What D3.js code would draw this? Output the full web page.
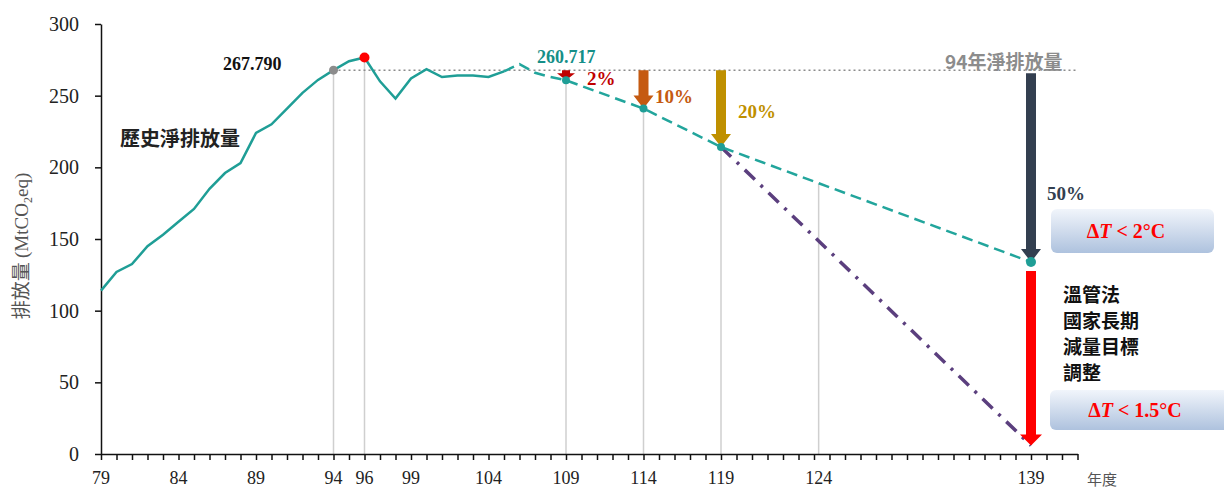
<!DOCTYPE html>
<html>
<head>
<meta charset="utf-8">
<script src="https://d3js.org/d3.v7.min.js"></script>
<style>
  body { margin: 0; background: #fff; }
  svg { display: block; }
</style>
</head>
<body>
<svg width="1224" height="495"></svg>
<script>
// 歷史淨排放量 (民國年, MtCO2eq)
var histYears  = [79, 80, 81, 82, 83, 84, 85, 86, 87, 88, 89, 90, 91, 92, 93, 94, 95, 96, 97, 98, 99, 100, 101, 102, 103, 104, 105];
var histValues = [114, 127, 132.5, 145, 153, 162, 171, 185, 196, 203, 224, 230, 241, 252, 261, 267.79, 274, 276.6, 260, 248, 262, 268.5, 263, 264, 264, 263, 267];

// 減量路徑 (虛線)
var pathYears  = [105, 106, 107, 108, 109, 114, 119, 139];
var pathValues = [267, 272, 266, 263, 260.717, 241.0, 214.2, 133.9];

// 1.5°C 路徑 (點虛線)
var steepYears  = [119, 139];
var steepValues = [214.2, 6];

var baseYear = 94, baseValue = 267.79;
var peakYear = 96, peakValue = 276.6;

// 各階段減量
var cutYears  = [109, 114, 119, 139];
var cutValues = [260.717, 241.0, 214.2, 133.9];
var cutLabels = ['2%', '10%', '20%', '50%'];
var cutColors = ['#c00000', '#c55a11', '#bf9000', '#333f50'];

// 垂直參考線
var guideYears = [94, 96, 109, 114, 119, 125.3];

// x 軸標籤 (124 的標籤在原圖中畫在參考線位置)
var xTickAt     = [79, 84, 89, 94, 96, 99, 104, 109, 114, 119, 125.3, 139];
var xTickLabels = ['79', '84', '89', '94', '96', '99', '104', '109', '114', '119', '124', '139'];
var yTicks = [0, 50, 100, 150, 200, 250, 300];

var svg = d3.select("svg");
var serif = "'Liberation Serif', 'Times New Roman', serif";
var cjk = "'Noto Sans CJK TC', 'Noto Sans', sans-serif";
var teal = "#1f9e96";

var x = d3.scaleLinear().domain([79, 142]).range([101, 1077.5]);
var y = d3.scaleLinear().domain([0, 300]).range([454, 24]);
var onPath = d3.scaleLinear().domain(pathYears).range(pathValues);

// 參考線
svg.selectAll(".guide")
    .data(guideYears)
    .enter().append("line")
    .attr("class", "guide")
    .attr("x1", function(d) { return x(d); })
    .attr("x2", function(d) { return x(d); })
    .attr("y1", y(0))
    .attr("y2", function(d) {
        if (d === baseYear) return y(baseValue);
        if (d === peakYear) return y(peakValue);
        return y(onPath(d));
    })
    .attr("stroke", "#cfcfcf")
    .attr("stroke-width", 1.5);

// 94年水平虛線
svg.append("line")
    .attr("x1", x(baseYear)).attr("x2", x(142))
    .attr("y1", y(baseValue)).attr("y2", y(baseValue))
    .attr("stroke", "#8c8c8c")
    .attr("stroke-width", 1.5)
    .attr("stroke-dasharray", "2,3");

// 軸
var xAxis = d3.axisBottom(x)
    .tickValues(d3.range(79, 143))
    .tickSize(6)
    .tickSizeOuter(0)
    .tickFormat("");
svg.append("g")
    .attr("transform", "translate(0," + y(0) + ")")
    .call(xAxis)
    .call(function(g) {
        g.selectAll("line, path").attr("stroke", "#111").attr("stroke-width", 1.5);
    });

svg.selectAll(".xlab")
    .data(xTickAt)
    .enter().append("text")
    .attr("class", "xlab")
    .attr("x", function(d) { return x(d); })
    .attr("y", 484)
    .attr("text-anchor", "middle")
    .attr("font-family", serif)
    .attr("font-size", 18)
    .attr("fill", "#222")
    .text(function(d, i) { return xTickLabels[i]; });

var yAxis = d3.axisLeft(y)
    .tickValues(yTicks)
    .tickSize(6)
    .tickSizeOuter(0)
    .tickPadding(16);
svg.append("g")
    .attr("transform", "translate(" + x(79) + ",0)")
    .call(yAxis)
    .call(function(g) {
        g.selectAll("line, path").attr("stroke", "#111").attr("stroke-width", 1.5);
        g.selectAll("text")
            .attr("font-family", serif)
            .attr("font-size", 20)
            .attr("fill", "#222");
    });

svg.append("text")
    .attr("x", 1087).attr("y", 485)
    .attr("font-family", cjk)
    .attr("font-size", 15)
    .attr("fill", "#555")
    .text("年度");

var ylab = svg.append("text")
    .attr("transform", "translate(28,246) rotate(-90)")
    .attr("text-anchor", "middle")
    .attr("fill", "#555")
    .attr("font-size", 19);
ylab.append("tspan").attr("font-family", cjk).text("排放量 ");
ylab.append("tspan").attr("font-family", serif).text("(MtCO");
ylab.append("tspan").attr("font-family", serif).attr("font-size", 12).attr("dy", 4).text("2");
ylab.append("tspan").attr("font-family", serif).attr("dy", -4).text("eq)");

// 線
var line = d3.line()
    .x(function(d) { return x(d[0]); })
    .y(function(d) { return y(d[1]); });

svg.append("path")
    .datum(d3.zip(steepYears, steepValues))
    .attr("d", line)
    .attr("fill", "none")
    .attr("stroke", "#5b3f7e")
    .attr("stroke-width", 3.5)
    .attr("stroke-dasharray", "14,8,3,8");

svg.append("path")
    .datum(d3.zip(histYears, histValues))
    .attr("d", line)
    .attr("fill", "none")
    .attr("stroke", teal)
    .attr("stroke-width", 2.5);

svg.append("path")
    .datum(d3.zip(pathYears, pathValues))
    .attr("d", line)
    .attr("fill", "none")
    .attr("stroke", "#22a59c")
    .attr("stroke-width", 2.5)
    .attr("stroke-dasharray", "11,6");

// 箭頭
function arrow(cx, y0, y1, shaftW, headW, headLen, color) {
    var hl = Math.min(headLen, (y1 - y0) * 0.7);
    var pts = [
        [cx - shaftW / 2, y0], [cx + shaftW / 2, y0],
        [cx + shaftW / 2, y1 - hl], [cx + headW / 2, y1 - hl],
        [cx, y1],
        [cx - headW / 2, y1 - hl], [cx - shaftW / 2, y1 - hl]
    ];
    svg.append("polygon")
        .attr("points", pts.map(function(p) { return p.join(","); }).join(" "))
        .attr("fill", color);
}

cutYears.forEach(function(yr, i) {
    var w = i === 0 ? 8 : 10;
    var hw = i === 0 ? 18 : 20;
    arrow(x(yr), y(baseValue) + (i === 3 ? 3 : 0), y(cutValues[i]), w, hw, 13, cutColors[i]);
});

// 1.5°C 箭頭
arrow(x(139), y(cutValues[3]) + 9, y(steepValues[1]), 10, 22, 11, "#ff0000");

// 標記點
svg.selectAll(".cut")
    .data(cutYears.slice(0, 3))
    .enter().append("circle")
    .attr("cx", function(d) { return x(d); })
    .attr("cy", function(d, i) { return y(cutValues[i]); })
    .attr("r", 4)
    .attr("fill", teal);

svg.append("circle")
    .attr("cx", x(139)).attr("cy", y(cutValues[3]))
    .attr("r", 5).attr("fill", teal);

svg.append("circle")
    .attr("cx", x(baseYear)).attr("cy", y(baseValue))
    .attr("r", 4.5).attr("fill", "#8c8c8c");

svg.append("circle")
    .attr("cx", x(peakYear)).attr("cy", y(peakValue))
    .attr("r", 5).attr("fill", "#ff0000");

// 文字
svg.append("text")
    .attr("x", 223).attr("y", 70)
    .attr("font-family", serif).attr("font-weight", "bold")
    .attr("font-size", 18).attr("fill", "#111")
    .text("267.790");

svg.append("text")
    .attr("x", 537).attr("y", 63)
    .attr("font-family", serif).attr("font-weight", "bold")
    .attr("font-size", 18).attr("fill", "#158f88")
    .text("260.717");

svg.append("text")
    .attr("x", 120).attr("y", 146)
    .attr("font-family", cjk).attr("font-weight", "bold")
    .attr("font-size", 20).attr("fill", "#222")
    .text("歷史淨排放量");

svg.append("text")
    .attr("x", 945).attr("y", 69)
    .attr("font-family", cjk).attr("font-weight", "bold")
    .attr("font-size", 19).attr("fill", "#8c8c8c")
    .text("94年淨排放量");

var pctPos = [[587, 85], [655, 103], [738, 118], [1047, 200]];
cutLabels.forEach(function(t, i) {
    svg.append("text")
        .attr("x", pctPos[i][0]).attr("y", pctPos[i][1])
        .attr("font-family", serif).attr("font-weight", "bold")
        .attr("font-size", 19).attr("fill", cutColors[i])
        .text(t);
});

["溫管法", "國家長期", "減量目標", "調整"].forEach(function(t, i) {
    svg.append("text")
        .attr("x", 1063).attr("y", 302 + i * 26)
        .attr("font-family", cjk).attr("font-weight", "bold")
        .attr("font-size", 19).attr("fill", "#111")
        .text(t);
});

// 溫度框
var defs = svg.append("defs");
var grad = defs.append("linearGradient")
    .attr("id", "boxg").attr("x1", 0).attr("y1", 0).attr("x2", 0).attr("y2", 1);
grad.append("stop").attr("offset", "0%").attr("stop-color", "#f1f5fb");
grad.append("stop").attr("offset", "100%").attr("stop-color", "#aec2de");

function tempBox(bx, by, bw, bh, tx, num) {
    svg.append("rect")
        .attr("x", bx).attr("y", by).attr("width", bw).attr("height", bh)
        .attr("rx", 6).attr("fill", "url(#boxg)");
    var t = svg.append("text")
        .attr("x", tx).attr("y", by + bh / 2 + 7)
        .attr("text-anchor", "middle")
        .attr("font-family", serif).attr("font-weight", "bold")
        .attr("font-size", 20).attr("fill", "#ff0000");
    t.append("tspan").text("Δ");
    t.append("tspan").attr("font-style", "italic").text("T");
    t.append("tspan").text(" < " + num + "°C");
}
tempBox(1051, 209, 163, 44, 1126, "2");
tempBox(1050, 390, 185, 40, 1135, "1.5");
</script>
</body>
</html>
